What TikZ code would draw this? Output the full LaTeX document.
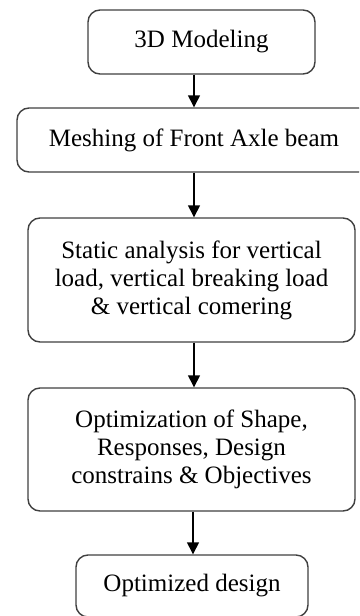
\documentclass[tikz,border=0pt]{standalone}
\usepackage{fontspec}
\setmainfont{Liberation Serif}
\usetikzlibrary{arrows.meta}
\begin{document}
\begin{tikzpicture}[x=1pt,y=-1pt,
  stepbox/.style={draw=black!75, line width=1.4pt, rounded corners=12pt, fill=white,
    align=center, inner sep=0pt, font=\fontsize{25}{28}\selectfont},
  arr/.style={draw=black, line width=1.4pt, -{Triangle[width=12pt,length=12pt]}}]
\useasboundingbox (0,0) rectangle (359,616);
\clip (0,0) rectangle (359,616);
\node[stepbox, minimum width=227pt, minimum height=64pt] (b1) at (201.5,42) {3D Modeling};
\node[stepbox, minimum width=354pt, minimum height=64pt] (b2) at (194,140) {Meshing of Front Axle beam};
\node[stepbox, minimum width=327pt, minimum height=124pt] (b3) at (191.5,280) {Static analysis for vertical\\load, vertical breaking load\\\& vertical comering};
\node[stepbox, minimum width=327pt, minimum height=123pt] (b4) at (191.5,449.5) {Optimization of Shape,\\Responses, Design\\constrains \& Objectives};
\node[stepbox, minimum width=232pt, minimum height=62pt] (b5) at (192,586) {Optimized design};
\coordinate (ax) at (194,0);
\coordinate (ay) at (193,0);
\draw[arr] (b1.south -| ax) -- (b2.north -| ax);
\draw[arr] (b2.south -| ax) -- (b3.north -| ax);
\draw[arr] (b3.south -| ax) -- (b4.north -| ax);
\draw[arr] (b4.south -| ay) -- (b5.north -| ay);
\end{tikzpicture}
\end{document}
